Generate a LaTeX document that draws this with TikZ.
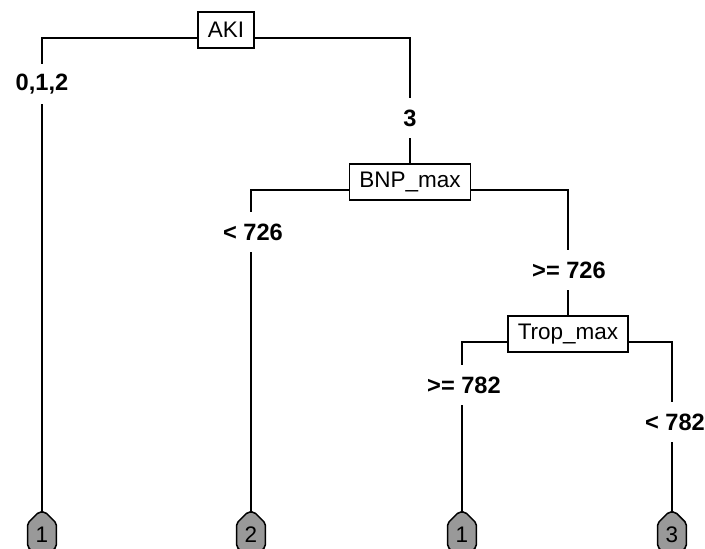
\documentclass[tikz,border=0pt]{standalone}
\usepackage{fontspec}
\setmainfont{Liberation Sans}
\usetikzlibrary{shapes.misc}
\usepackage{xcolor}

\tikzset{
  splitbox/.style={draw, line width=1.1pt, fill=white, inner xsep=7pt, inner ysep=0pt,
    minimum height=0.9cm, font=\fontsize{16}{18}\selectfont},
  cutlabel/.style={inner sep=0pt, minimum height=1.0cm, font=\fontsize{16.8}{18}\selectfont\bfseries},
  leafnode/.style={draw, line width=1.1pt, fill=gray!80, chamfered rectangle,
    chamfered rectangle xsep=4pt, chamfered rectangle ysep=4pt, rounded corners=1.5pt,
    minimum width=0.72cm, minimum height=1.15cm, inner sep=0pt,
    font=\fontsize{16}{18}\selectfont},
  edge/.style={line width=1.1pt}
}

\begin{document}
\begin{tikzpicture}[x=0.025cm, y=-0.025cm]
  \useasboundingbox (0,0) rectangle (705,548);
  \clip (0,0) rectangle (705,548);

  % split boxes
  \node[splitbox] (aki) at (226,30) {AKI};
  \node[splitbox] (bnp) at (410,182) {BNP\_max};
  \node[splitbox] (trop) at (568,334) {Trop\_max};

  % cut labels
  \node[cutlabel] (lab012) at (42,84) {0,1,2};
  \node[cutlabel] (lab3) at (410,118) {3};
  \node[cutlabel] (lablt726) at (253,232) {< 726};
  \node[cutlabel] (labge726) at (569,270) {>= 726};
  \node[cutlabel] (labge782) at (464,385) {>= 782};
  \node[cutlabel] (lablt782) at (675,422) {< 782};

  % leaves
  \node[leafnode] (leafa) at (42,535) {1};
  \node[leafnode] (leafb) at (251,535) {2};
  \node[leafnode] (leafc) at (462,535) {1};
  \node[leafnode] (leafd) at (672,535) {3};

  % level of the horizontal bars
  \coordinate (akiL) at (42,38);
  \coordinate (akiR) at (410,38);
  \coordinate (bnpL) at (251,190);
  \coordinate (bnpR) at (568,190);
  \coordinate (tropL) at (462,342);
  \coordinate (tropR) at (672,342);

  % AKI split
  \draw[edge] (aki.west |- akiL) -- (akiL) -- (lab012.north);
  \draw[edge] (aki.east |- akiR) -- (akiR) -- (akiR |- lab3.north);
  \draw[edge] (lab012.south) -- (leafa.north);
  \draw[edge] (akiR |- lab3.south) -- (bnp.north);

  % BNP split
  \draw[edge] (bnp.west |- bnpL) -- (bnpL) -- (bnpL |- lablt726.north);
  \draw[edge] (bnp.east |- bnpR) -- (bnpR) -- (bnpR |- labge726.north);
  \draw[edge] (bnpL |- lablt726.south) -- (leafb.north);
  \draw[edge] (bnpR |- labge726.south) -- (trop.north);

  % Trop split
  \draw[edge] (trop.west |- tropL) -- (tropL) -- (tropL |- labge782.north);
  \draw[edge] (trop.east |- tropR) -- (tropR) -- (tropR |- lablt782.north);
  \draw[edge] (tropL |- labge782.south) -- (leafc.north);
  \draw[edge] (tropR |- lablt782.south) -- (leafd.north);
\end{tikzpicture}
\end{document}
